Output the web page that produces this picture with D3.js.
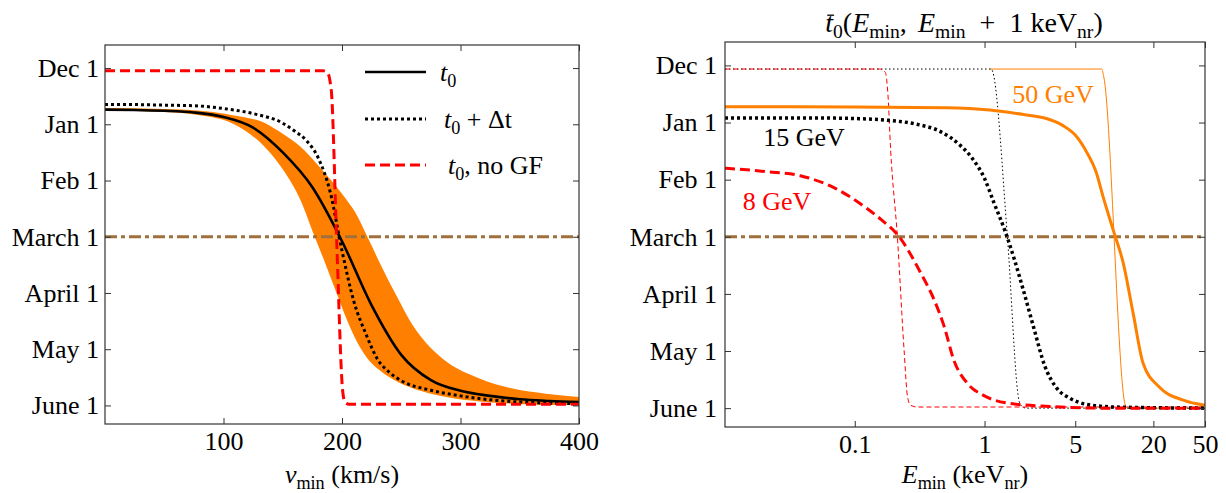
<!DOCTYPE html>
<html>
<head>
<meta charset="utf-8">
<script src="https://cdn.jsdelivr.net/npm/d3@7"></script>
<style>
  body { margin: 0; background: #fff; }
  svg { display: block; }
  svg text { font-family: "Liberation Serif", "Times New Roman", serif; }
</style>
</head>
<body>
<div id="chart"></div>
<script>
// month axis: 0 = Dec 1 ... 6 = June 1
const monthTicks = [0, 1, 2, 3, 4, 5, 6];
const monthLabels = ["Dec 1", "Jan 1", "Feb 1", "March 1", "April 1", "May 1", "June 1"];
const marchLevel = 3;
const vTicks = [100, 200, 300, 400];
const eTicks = [0.1, 1, 5, 20, 50];
const eTickLabels = ["0.1", "1", "5", "20", "50"];

// left panel: t0 vs v_min
const vT0 = [0, 25, 50, 75, 100, 125, 150, 175, 200, 225, 250, 275, 300, 325, 350, 375, 400];
const mT0 = [0.74, 0.745, 0.76, 0.79, 0.87, 1.06, 1.50, 2.12, 3.08, 4.22, 5.10, 5.55, 5.74, 5.83, 5.89, 5.92, 5.94];

const vDt = [0, 25, 50, 75, 100, 125, 150, 160, 170, 180, 190, 200, 210, 220, 230, 240, 250, 275, 300, 325, 350, 375, 400];
const mDt = [0.65, 0.65, 0.66, 0.67, 0.72, 0.81, 0.98, 1.12, 1.29, 1.60, 2.20, 3.25, 4.15, 4.72, 5.18, 5.41, 5.56, 5.73, 5.83, 5.90, 5.94, 5.96, 5.97];

const vNoGF = [0, 184, 187, 189, 190, 191, 195.5, 200.5, 201.5, 203, 206, 400];
const mNoGF = [0.05, 0.05, 0.07, 0.14, 0.25, 0.4, 3.06, 5.73, 5.88, 5.95, 5.98, 5.98];

const vBand = [0, 50, 80, 108, 136, 150, 165, 177, 186, 195, 203, 211, 221, 232, 246, 259, 275, 288, 316, 344, 372, 400];
const mBandHi = [0.71, 0.73, 0.76, 0.84, 0.99, 1.17, 1.40, 1.66, 1.88, 2.10, 2.32, 2.56, 2.98, 3.47, 4.05, 4.55, 4.98, 5.22, 5.52, 5.70, 5.79, 5.85];
const mBandLo = [0.76, 0.78, 0.84, 0.99, 1.43, 1.80, 2.35, 3.0, 3.48, 3.98, 4.42, 4.80, 5.15, 5.38, 5.57, 5.69, 5.79, 5.85, 5.93, 5.97, 5.99, 5.99];

// right panel: mean t0 vs E_min, thick = with GF, thin = no GF
const e8 = [0.01, 0.021, 0.038, 0.069, 0.125, 0.16, 0.22, 0.32, 0.41, 0.49, 0.58, 0.74, 0.99, 1.6, 3.2, 8, 50];
const m8 = [1.80, 1.86, 1.93, 2.14, 2.51, 2.70, 3.0, 3.62, 4.11, 4.58, 5.16, 5.57, 5.78, 5.92, 5.97, 6.0, 6.0];
const e15 = [0.01, 0.05, 0.1, 0.18, 0.3, 0.45, 0.65, 0.8, 1.0, 1.18, 1.45, 1.7, 2.0, 2.4, 2.9, 3.6, 4.5, 6, 10, 50];
const m15 = [0.92, 0.92, 0.93, 0.96, 1.03, 1.15, 1.40, 1.62, 1.98, 2.40, 2.92, 3.40, 3.95, 4.60, 5.25, 5.65, 5.82, 5.93, 5.98, 6.0];
const e50 = [0.01, 0.1, 0.5, 1.1, 2.0, 3.0, 4.0, 5.0, 6.2, 7.2, 8.2, 9.8, 11.75, 14.0, 16.7, 22.2, 34, 50];
const m50 = [0.725, 0.727, 0.74, 0.78, 0.86, 0.93, 1.05, 1.22, 1.54, 1.85, 2.30, 2.88, 3.47, 4.35, 5.22, 5.63, 5.86, 5.95];

const e8thin = [0.01, 0.155, 0.172, 0.180, 0.189, 0.213, 0.240, 0.255, 0.27, 0.3, 50];
const m8thin = [0.063, 0.063, 0.12, 0.5, 1.48, 3.0, 4.99, 5.8, 5.95, 5.98, 5.98];
const e15thin = [0.01, 1.13, 1.16, 1.50, 1.84, 1.92, 2.1, 50];
const m15thin = [0.063, 0.063, 0.12, 3.0, 5.86, 5.96, 6.0, 6.0];
const e50thin = [1.1, 8.0, 8.3, 12.16, 12.6, 50];
const m50thin = [0.063, 0.063, 0.2, 5.95, 6.0, 6.0];

const FONT = "'Liberation Serif', 'Times New Roman', serif";
const FS = 26;
const ORANGE = "#ff8000", RED = "#ff0000", BROWN = "#a0703c", AXIS = "#333";

const svg = d3.select("#chart").append("svg")
  .attr("width", 1226).attr("height", 493)
  .attr("font-family", FONT);

// text made of plain / italic / subscript pieces
function richText(g, x, y, parts, anchor, color, size) {
  const fs = size || FS;
  const t = g.append("text").attr("x", x).attr("y", y)
    .attr("text-anchor", anchor || "start")
    .attr("font-size", fs).attr("fill", color || "#000");
  let cur = 0;
  parts.forEach(p => {
    const want = p.sub ? Math.round(fs * 0.23) : 0;
    const ts = t.append("tspan").text(p.t).attr("dy", want - cur);
    cur = want;
    if (p.i) ts.attr("font-style", "italic");
    if (p.sub) ts.attr("font-size", fs * 0.7);
  });
  return t;
}

function frame(g, x, y, tickPad, xTicks, xFmt) {
  const [x0, x1] = x.range(), [y0, y1] = y.range();
  const left = g.append("g").attr("transform", `translate(${x0},0)`)
    .call(d3.axisLeft(y).tickValues(monthTicks).tickFormat((d, i) => monthLabels[i])
      .tickSize(-6).tickPadding(tickPad));
  const right = g.append("g").attr("transform", `translate(${x1},0)`)
    .call(d3.axisRight(y).tickValues(monthTicks).tickFormat("").tickSize(-6));
  const bottom = g.append("g").attr("transform", `translate(0,${y1})`)
    .call(d3.axisBottom(x).tickValues(xTicks).tickFormat(xFmt).tickSize(-6).tickPadding(8));
  const top = g.append("g").attr("transform", `translate(0,${y0})`)
    .call(d3.axisTop(x).tickValues(xTicks).tickFormat("").tickSize(-6));
  [left, right, bottom, top].forEach(a => {
    a.select(".domain").remove();
    a.attr("font-family", FONT).attr("font-size", FS);
    a.selectAll("line").attr("stroke", AXIS);
    a.selectAll("text").attr("fill", "#000");
  });
  g.append("rect").attr("x", x0).attr("y", y0)
    .attr("width", x1 - x0).attr("height", y1 - y0)
    .attr("fill", "none").attr("stroke", AXIS).attr("stroke-width", 1.2);
}

function series(g, line, xs, ys, color, width, dash) {
  g.append("path").datum(d3.zip(xs, ys))
    .attr("d", line).attr("fill", "none")
    .attr("stroke", color).attr("stroke-width", width)
    .attr("stroke-dasharray", dash || null);
}

// ---------- left panel ----------
const xL = d3.scaleLinear().domain([0, 400]).range([105, 579]);
const yL = d3.scaleLinear().domain([-0.41, 6.33]).range([45, 424]);
const gL = svg.append("g");
const lineL = d3.line().x(d => xL(d[0])).y(d => yL(d[1])).curve(d3.curveMonotoneX);

gL.append("path")
  .datum(d3.zip(vBand, mBandHi, mBandLo))
  .attr("d", d3.area().x(d => xL(d[0])).y0(d => yL(d[2])).y1(d => yL(d[1])).curve(d3.curveMonotoneX))
  .attr("fill", ORANGE);

series(gL, lineL, [0, 400], [marchLevel, marchLevel], BROWN, 3, "12,4,4,4");
series(gL, lineL, vT0, mT0, "#000", 2.6);
series(gL, lineL, vDt, mDt, "#000", 3, "3,3");
series(gL, lineL, vNoGF, mNoGF, RED, 3, "10,5");

// legend
const legend = [
  { y: 72, color: "#000", dash: null, w: 2.6, tx: 440, parts: [{ t: "t", i: true }, { t: "0", sub: true }] },
  { y: 119, color: "#000", dash: "3,3", w: 3, tx: 444, parts: [{ t: "t", i: true }, { t: "0", sub: true }, { t: " + Δt" }] },
  { y: 165, color: RED, dash: "10,5", w: 3, tx: 448, parts: [{ t: "t", i: true }, { t: "0", sub: true }, { t: ", no GF" }] }
];
legend.forEach(l => {
  gL.append("line").attr("x1", 365).attr("x2", 426).attr("y1", l.y).attr("y2", l.y)
    .attr("stroke", l.color).attr("stroke-width", l.w).attr("stroke-dasharray", l.dash);
  richText(gL, l.tx, l.y + 9, l.parts);
});

frame(gL, xL, yL, 6, vTicks, d3.format("d"));
richText(gL, 342, 483, [{ t: "v", i: true }, { t: "min", sub: true }, { t: " (km/s)" }], "middle");

// ---------- right panel ----------
const xR = d3.scaleLog().domain([0.01, 50]).range([725, 1205]);
const yR = d3.scaleLinear().domain([-0.41, 6.33]).range([42, 427]);
const gR = svg.append("g");
const lineR = d3.line().x(d => xR(d[0])).y(d => yR(d[1])).curve(d3.curveMonotoneX);

series(gR, lineR, [0.01, 50], [marchLevel, marchLevel], BROWN, 3, "12,4,4,4");
series(gR, lineR, e50thin, m50thin, ORANGE, 1);
series(gR, lineR, e15thin, m15thin, "#000", 1, "1.5,2.5");
series(gR, lineR, e8thin, m8thin, RED, 1, "5,3");
series(gR, lineR, e50, m50, ORANGE, 3);
series(gR, lineR, e15, m15, "#000", 3.5, "3,3");
series(gR, lineR, e8, m8, RED, 3, "10,5");

richText(gR, 777, 210, [{ t: "8 GeV" }], "middle", RED);
richText(gR, 804, 146, [{ t: "15 GeV" }], "middle", "#000");
richText(gR, 1053, 103, [{ t: "50 GeV" }], "middle", ORANGE);

frame(gR, xR, yR, 8, eTicks, (d, i) => eTickLabels[i]);
richText(gR, 965, 483, [{ t: "E", i: true }, { t: "min", sub: true }, { t: " (keV" }, { t: "nr", sub: true }, { t: ")" }], "middle");

const TFS = 28;
const title = richText(gR, 964, 32, [
  { t: "t", i: true }, { t: "0", sub: true }, { t: "(" }, { t: "E", i: true }, { t: "min", sub: true },
  { t: ",\u2009\u2009" }, { t: "E", i: true }, { t: "min", sub: true }, { t: "\u2002+\u20021 keV" }, { t: "nr", sub: true }, { t: ")" }
], "middle", "#000", TFS);
// bar over the t
const tBox = title.node().getExtentOfChar(0);
gR.append("line")
  .attr("x1", tBox.x + 2).attr("x2", tBox.x + tBox.width + 1)
  .attr("y1", 32 - 0.6 * TFS).attr("y2", 32 - 0.6 * TFS)
  .attr("stroke", "#000").attr("stroke-width", 1.3);
</script>
</body>
</html>
